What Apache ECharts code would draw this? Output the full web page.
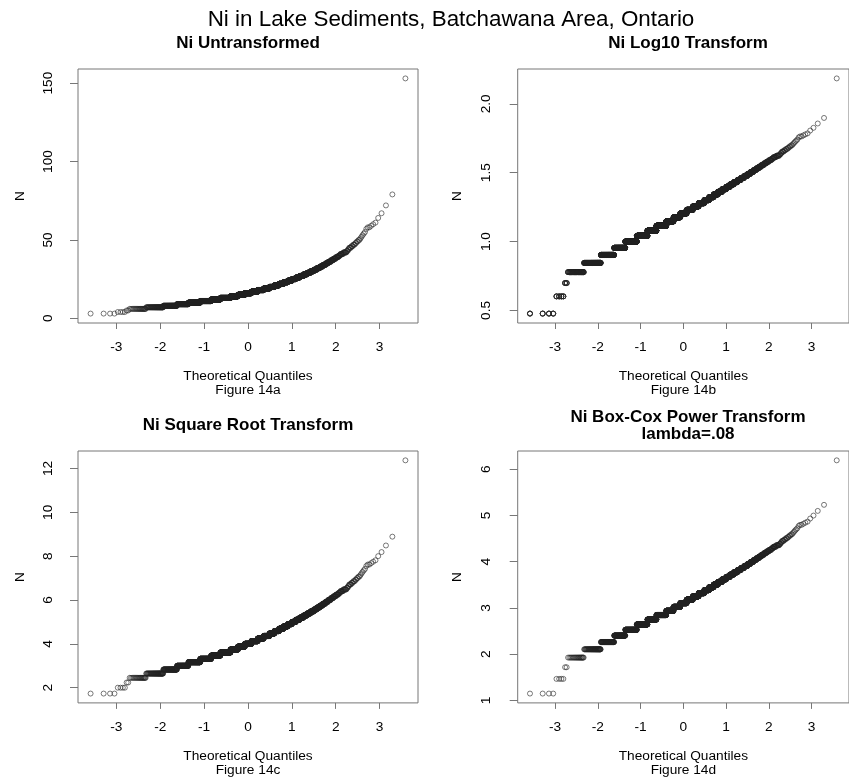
<!DOCTYPE html>
<html>
<head>
<meta charset="utf-8">
<script src="https://cdn.jsdelivr.net/npm/echarts@6/dist/echarts.min.js"></script>
<style>
html,body{margin:0;padding:0;background:#fff;}
#chart{width:849px;height:778px;}
</style>
</head>
<body>
<div id="chart"></div>
<script>
const niValues = [3,4,5,6,7,8,9,10,11,12,13,14,15,16,17,18,19,20,21,22,23,24,25,26,27,28,29,30,
  31,32,33,34,35,36,37,38,39,40,41,42,43,44,45,46,47,48,49,50,51,52,53,54,55,57,58,59,60,61,64,67,72,79,153];
const niCounts = [4,4,2,20,50,78,103,153,187,192,241,193,185,180,171,156,144,116,103,91,80,72,62,55,49,41,36,32,
  25,23,19,17,14,13,11,10,9,6,8,8,3,2,4,3,3,2,2,2,1,1,1,1,1,1,2,1,1,1,1,1,1,1,1];
const boxCoxLambda = 0.08;

const mainTitle = 'Ni in Lake Sediments, Batchawana Area, Ontario';
const panelTitles = ['Ni Untransformed','Ni Log10 Transform','Ni Square Root Transform','Ni Box-Cox Power Transform\nlambda=.08'];
const figureLabels = ['Figure 14a','Figure 14b','Figure 14c','Figure 14d'];
const xTicks = [-3,-2,-1,0,1,2,3];
const yTicks = [[0,50,100,150],[0.5,1.0,1.5,2.0],[2,4,6,8,10,12],[1,2,3,4,5,6]];
const yTickText = [['0','50','100','150'],['0.5','1.0','1.5','2.0'],['2','4','6','8','10','12'],['1','2','3','4','5','6']];

// standard normal quantile (Acklam)
function qnorm(p){
  const a=[-3.969683028665376e+01,2.209460984245205e+02,-2.759285104469687e+02,1.383577518672690e+02,-3.066479806614716e+01,2.506628277459239e+00];
  const b=[-5.447609879822406e+01,1.615858368580409e+02,-1.556989798598866e+02,6.680131188771972e+01,-1.328068155288572e+01];
  const c=[-7.784894002430293e-03,-3.223964580411365e-01,-2.400758277161838e+00,-2.549732539343734e+00,4.374664141464968e+00,2.938163982698783e+00];
  const d=[7.784695709041462e-03,3.224671290700398e-01,2.445134137142996e+00,3.754408661907416e+00];
  const pl=0.02425, ph=1-pl; let q,r;
  if(p<pl){q=Math.sqrt(-2*Math.log(p));return (((((c[0]*q+c[1])*q+c[2])*q+c[3])*q+c[4])*q+c[5])/((((d[0]*q+d[1])*q+d[2])*q+d[3])*q+1);}
  if(p<=ph){q=p-0.5;r=q*q;return (((((a[0]*r+a[1])*r+a[2])*r+a[3])*r+a[4])*r+a[5])*q/(((((b[0]*r+b[1])*r+b[2])*r+b[3])*r+b[4])*r+1);}
  q=Math.sqrt(-2*Math.log(1-p));return -(((((c[0]*q+c[1])*q+c[2])*q+c[3])*q+c[4])*q+c[5])/((((d[0]*q+d[1])*q+d[2])*q+d[3])*q+1);
}

// sorted sample and theoretical quantiles (R ppoints, a = 0.5)
const sample = [];
niValues.forEach((v,i)=>{ for(let k=0;k<niCounts[i];k++) sample.push(v); });
const n = sample.length;
const theo = sample.map((v,i)=>qnorm((i+1-0.5)/n));

const transforms = [
  v=>v,
  v=>Math.log10(v),
  v=>Math.sqrt(v),
  v=>(Math.pow(v,boxCoxLambda)-1)/boxCoxLambda
];

const FONT = 'Liberation Sans';
const grids = [
  {left:78, top:69, width:340, height:254},
  {left:517.7, top:69, width:340.3, height:254},
  {left:78, top:451, width:340, height:254},
  {left:517.7, top:451, width:340.3, height:254}
];
const titlePos = [[248,43],[688,43],[248,425],[688,426]];
const yNameGap = [51,53,51,53];
const yLabelMargin = [23,24,23,24];

const ext = v => v.max - v.min;
const option = {
  animation:false,
  backgroundColor:'#fff',
  title:[{text:mainTitle,left:451,top:20,textAlign:'center',textVerticalAlign:'middle',padding:0,
    textStyle:{fontFamily:FONT,fontSize:22.4,fontWeight:'normal',color:'#000'}}].concat(
    panelTitles.map((t,i)=>({text:t,left:titlePos[i][0],top:titlePos[i][1],textAlign:'center',textVerticalAlign:'middle',padding:0,
      textStyle:{fontFamily:FONT,fontSize:17,fontWeight:'bold',color:'#000',lineHeight:17}}))),
  grid:grids.map(g=>Object.assign({show:true,borderColor:'#777',borderWidth:1,backgroundColor:'transparent'},g)),
  xAxis:grids.map((g,i)=>({
    type:'value',gridIndex:i,
    min:v=>v.min-0.04*ext(v), max:v=>v.max+0.04*ext(v),
    axisLine:{show:false,onZero:false},
    axisTick:{show:true,length:6,customValues:xTicks,lineStyle:{color:'#777',width:1}},
    axisLabel:{customValues:xTicks,margin:17,fontFamily:FONT,fontSize:13.7,color:'#000'},
    splitLine:{show:false},
    name:'Theoretical Quantiles\n'+figureLabels[i],nameLocation:'middle',nameGap:47,
    nameTextStyle:{fontFamily:FONT,fontSize:13.7,color:'#000',lineHeight:13.4}
  })),
  yAxis:grids.map((g,i)=>({
    type:'value',gridIndex:i,
    min:v=>v.min-0.04*ext(v), max:v=>v.max+0.04*ext(v),
    axisLine:{show:false,onZero:false},
    axisTick:{show:true,length:8,customValues:yTicks[i],lineStyle:{color:'#777',width:1}},
    axisLabel:{customValues:yTicks[i],rotate:90,margin:yLabelMargin[i],fontFamily:FONT,fontSize:13.7,color:'#000',
      formatter:(val)=>{const k=yTicks[i].findIndex(t=>Math.abs(t-val)<1e-9);return k>=0?yTickText[i][k]:String(val);}},
    splitLine:{show:false},
    name:'N',nameLocation:'middle',nameGap:yNameGap[i],nameRotate:90,
    nameTextStyle:{fontFamily:FONT,fontSize:13.7,color:'#000'}
  })),
  series:transforms.map((f,i)=>({
    type:'scatter',xAxisIndex:i,yAxisIndex:i,
    symbol:'circle',symbolSize:5,
    itemStyle:{color:'rgba(0,0,0,0)',borderColor:'#222',borderWidth:0.75},
    emphasis:{disabled:true},
    data:sample.map((v,k)=>[theo[k],f(v)])
  }))
};
const chart = echarts.init(document.getElementById('chart'),null,{renderer:'canvas'});
chart.setOption(option);
</script>
</body>
</html>
